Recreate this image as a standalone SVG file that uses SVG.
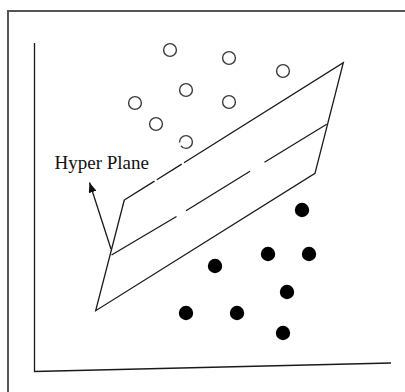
<svg xmlns="http://www.w3.org/2000/svg" width="405" height="392" viewBox="0 0 405 392">
  <style>
    .frame { fill: none; stroke: #555; stroke-width: 2; }
    .ln { fill: none; stroke: #1a1a1a; stroke-width: 1.3; stroke-linecap: butt; }
    .open { fill: #fff; stroke: #3a3a3a; stroke-width: 1.4; }
    .dot { fill: #000; stroke: none; }
    .lbl { font-family: "Liberation Serif", "Times New Roman", serif; font-size: 19px; fill: #111; }
  </style>
  <defs>
    <marker id="ah" viewBox="0 0 10 8" refX="10" refY="4" markerWidth="10" markerHeight="8" markerUnits="userSpaceOnUse" orient="auto">
      <path d="M0,0 L10,4 L0,8 z" fill="#111"/>
    </marker>
  </defs>
  <rect width="405" height="392" fill="#fff"/>
  <path class="frame" d="M8,392 V11 H405"/>
  <g id="axes">
    <path class="ln" d="M34.5,43 V371.5 L391,363"/>
  </g>
  <g id="hyperplane">
    <path class="ln" d="M124.3,200 L154.5,181.1 M156.8,179.7 L181.7,164.1 M184,162.7 L343.3,62.7 L315,173.3 L95.7,310.7 L124.3,200"/>
    <path class="ln" d="M111.5,255 L176.5,216.5 M186,210.8 L250,171.2 M264.5,162.3 L326.7,124.3"/>
  </g>
  <g id="class-open">
    <circle class="open" cx="170" cy="50" r="6.4"/>
    <circle class="open" cx="229" cy="58" r="6.4"/>
    <circle class="open" cx="283" cy="71" r="6.4"/>
    <circle class="open" cx="186" cy="90" r="6.4"/>
    <circle class="open" cx="229" cy="102" r="6.4"/>
    <circle class="open" cx="135" cy="103" r="6.4"/>
    <circle class="open" cx="156" cy="124" r="6.4"/>
    <circle class="open" cx="186" cy="142" r="6.4" stroke-dasharray="15.5 3.5 30"/>
  </g>
  <g id="class-filled">
    <circle class="dot" cx="302" cy="210" r="7.2"/>
    <circle class="dot" cx="268" cy="254" r="7.2"/>
    <circle class="dot" cx="309" cy="254" r="7.2"/>
    <circle class="dot" cx="215" cy="266" r="7.2"/>
    <circle class="dot" cx="287" cy="292" r="7.2"/>
    <circle class="dot" cx="186" cy="313" r="7.2"/>
    <circle class="dot" cx="237" cy="313" r="7.2"/>
    <circle class="dot" cx="283" cy="333" r="7.2"/>
  </g>
  <g id="label">
    <text class="lbl" x="54.5" y="168.5">Hyper Plane</text>
  </g>
  <g id="connectors">
    <path class="ln" d="M111,249 L89.5,182.5" marker-end="url(#ah)"/>
  </g>
</svg>
